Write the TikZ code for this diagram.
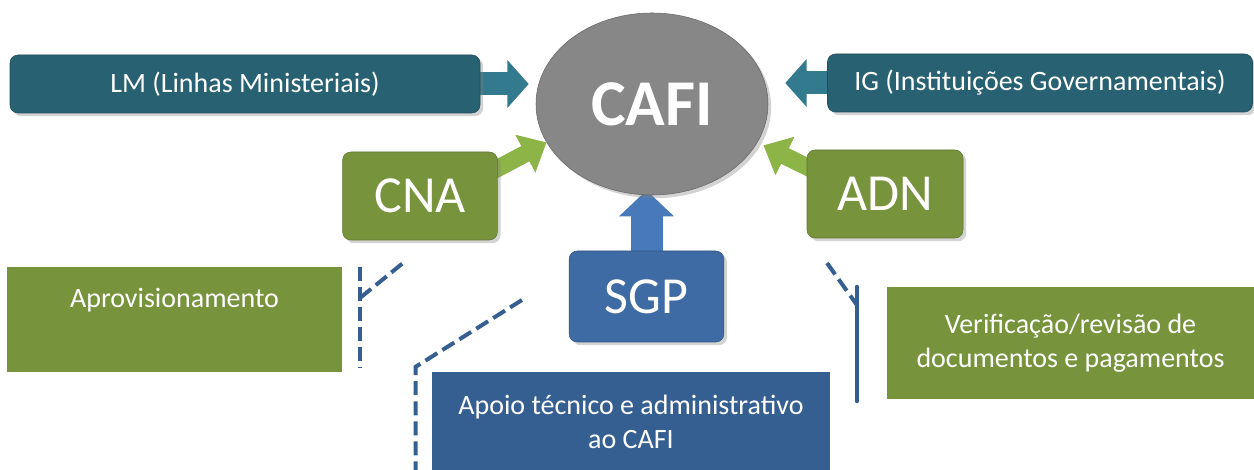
\documentclass[tikz,border=0pt]{standalone}
\usepackage{fontspec}
\setmainfont{Carlito}
\usetikzlibrary{arrows.meta,shadows,shapes.geometric,backgrounds}
\definecolor{tealbox}{RGB}{39,97,114}
\definecolor{tealarrow}{RGB}{52,122,142}
\definecolor{greenbox}{RGB}{119,147,60}
\definecolor{greenarrow}{RGB}{140,180,70}
\definecolor{bluebox}{RGB}{62,107,163}
\definecolor{bluearrow}{RGB}{72,122,185}
\definecolor{blueflat}{RGB}{54,95,145}
\definecolor{grayoval}{RGB}{135,135,135}

\begin{document}
\begin{tikzpicture}[x=0.75pt, y=-0.75pt,
    txt/.style={font=\fontsize{21}{25.5}\selectfont, text=white, align=center},
    topbox/.style={txt, rounded corners=6pt, fill=tealbox, draw=tealbox!80!black, minimum height=43.5pt, drop shadow={opacity=0.35}},
    smallbox/.style={rounded corners=6pt, draw=#1!80!black, fill=#1, text=white, font=\fontsize{39}{44}\selectfont, minimum width=116pt, minimum height=66pt, drop shadow={opacity=0.35}},
    flatbox/.style={txt, fill=#1, inner sep=0pt},
    blockarrow/.style={draw=#1, line width=17.25pt, -{Triangle[length=16pt, width=35pt]}},
    sidearrow/.style={draw=greenarrow, line width=13pt, -{Triangle[length=18pt, width=31pt]}},
    callout/.style={draw=blueflat, line width=3pt, dash pattern=on 10.5pt off 4.5pt},
    callline/.style={draw=blueflat, line width=3pt, line cap=round}]
\useasboundingbox (0,0) rectangle (1254,470);

\node[ellipse, fill=grayoval, draw=grayoval!75!black, minimum width=174pt, minimum height=136.5pt, inner sep=0pt, drop shadow={opacity=0.35},
      text=white, font=\fontsize{49}{55}\selectfont\bfseries] (cafi) at (652,104) {CAFI};
\node[topbox, minimum width=352.5pt] (lm) at (245,84) {LM (Linhas Ministeriais)};
\node[topbox, minimum width=318.75pt] (ig) at (1040,83) {IG (Instituições Governamentais)};
\node[smallbox=greenbox] (cna) at (420,196) {CNA};
\node[smallbox=greenbox, minimum width=117pt] (adn) at (885,194) {ADN};
\node[smallbox=bluebox, minimum height=68.25pt] (sgp) at (646.5,296.5) {SGP};

\node[flatbox=greenbox, minimum width=251.25pt, minimum height=78.75pt] (aprov) at (174.5,319.5) {Aprovisionamento\\ \strut};
\node[flatbox=greenbox, minimum width=275.25pt, minimum height=84pt] (verif) at (1070.5,343) {Verificação/revisão de\\documentos e pagamentos};
\node[flatbox=blueflat, minimum width=298.5pt, minimum height=75pt] (apoio) at (631,422) {Apoio técnico e administrativo\\ao CAFI};

\begin{pgfonlayer}{background}
\draw[blockarrow=tealarrow, shorten >=5.25pt] (lm.east) -- (lm.east -| cafi.west);
\draw[blockarrow=tealarrow, shorten >=12.75pt] (ig.west) -- (ig.west -| cafi.east);
\draw[sidearrow] ([shift={(-10,22)}]cna.north east) -- (cafi.200);
\draw[sidearrow, shorten >=5pt] ([shift={(10,22)}]adn.north west) -- (cafi.340);
\draw[blockarrow=bluearrow, line width=24pt, -{Triangle[length=19.5pt, width=40pt]}, shorten >=-3.75pt] (sgp.north) -- (sgp.north |- cafi.south);
\end{pgfonlayer}

\coordinate (cnafoot) at (403,263);
\coordinate (sgpfoot) at (522,300);
\coordinate (adnfoot) at (827,263);
\draw[callout] ([shift={(18,0)}]aprov.north east) -- ([shift={(18,-4)}]aprov.south east);
\draw[callout] ([shift={(18,31)}]aprov.north east) -- (cnafoot);
\draw[callout] (sgpfoot) -- ([shift={(-16,-5)}]apoio.north west) -- ([shift={(-16,0)}]apoio.south west);
\draw[callout] (adnfoot) -- ([shift={(-30,18)}]verif.north west);
\draw[callline] ([shift={(-30,0)}]verif.north west) -- ([shift={(-30,2)}]verif.south west);
\end{tikzpicture}
\end{document}
